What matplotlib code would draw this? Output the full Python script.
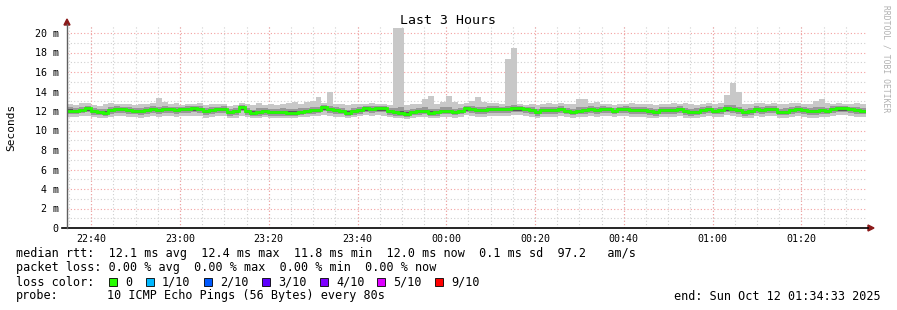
import numpy as np
import matplotlib
matplotlib.use("Agg")
import matplotlib.pyplot as plt
import matplotlib.dates as mdates
from matplotlib.patches import Rectangle, Polygon
from matplotlib.lines import Line2D

# ---------------- data (ms) ----------------
start_time = "2025-10-11T22:34:33"
step_seconds = 80

median_ms = [
    12.0, 12.0, 12.1, 12.3, 12.0, 11.9, 11.8, 12.1, 12.2, 12.2,
    12.1, 12.0, 12.0, 12.1, 12.2, 12.1, 12.2, 12.2, 12.1, 12.2,
    12.2, 12.3, 12.2, 12.0, 12.1, 12.2, 12.2, 11.9, 12.0, 12.4,
    12.0, 11.8, 11.9, 12.0, 11.9, 11.9, 11.9, 11.8, 11.8, 11.9,
    12.0, 12.1, 12.1, 12.4, 12.2, 12.1, 12.0, 11.8, 12.0, 12.1,
    12.3, 12.2, 12.3, 12.3, 12.0, 11.9, 11.8, 11.7, 11.9, 12.0,
    12.0, 11.8, 11.9, 12.0, 12.0, 11.9, 12.0, 12.3, 12.2, 12.1,
    12.1, 12.2, 12.2, 12.2, 12.2, 12.3, 12.3, 12.2, 12.1, 11.9,
    12.1, 12.1, 12.1, 12.2, 12.0, 11.9, 12.0, 12.1, 12.2, 12.1,
    12.2, 12.2, 12.0, 12.2, 12.2, 12.1, 12.1, 12.1, 12.0, 11.9,
    12.1, 12.1, 12.1, 12.2, 12.0, 11.9, 11.9, 12.1, 12.2, 12.0,
    12.1, 12.3, 12.2, 12.1, 11.9, 12.0, 12.2, 12.1, 12.2, 12.2,
    11.9, 11.9, 12.1, 12.2, 12.1, 12.0, 12.0, 12.1, 12.0, 12.2,
    12.3, 12.3, 12.2, 12.1, 12.0,
]

ping_max_ms = [
    12.7, 12.6, 12.8, 12.8, 12.6, 12.5, 12.7, 12.8, 12.7, 12.7,
    12.7, 12.6, 12.7, 12.7, 12.8, 13.3, 12.9, 12.7, 12.8, 12.6,
    12.7, 12.7, 12.8, 12.6, 12.7, 12.7, 12.7, 12.5, 12.6, 12.8,
    12.7, 12.6, 12.8, 12.6, 12.7, 12.6, 12.7, 12.8, 12.9, 12.7,
    12.9, 13.0, 13.4, 12.8, 14.0, 12.7, 12.7, 12.6, 12.7, 12.7,
    12.7, 12.8, 12.7, 12.7, 12.6, 20.5, 20.5, 12.6, 12.7, 12.7,
    13.2, 13.5, 12.7, 12.9, 13.5, 12.9, 12.7, 12.8, 13.0, 13.4,
    12.9, 12.8, 12.8, 12.7, 17.3, 18.5, 12.7, 12.6, 12.7, 12.6,
    12.7, 12.8, 12.7, 12.8, 12.7, 12.7, 13.2, 13.2, 12.8, 12.9,
    12.7, 12.7, 12.6, 12.7, 12.7, 12.8, 12.7, 12.7, 12.7, 12.6,
    12.7, 12.7, 12.8, 12.7, 12.8, 12.7, 12.6, 12.7, 12.8, 12.7,
    12.8, 13.6, 14.9, 13.9, 12.7, 12.7, 12.8, 12.8, 12.7, 12.8,
    12.7, 12.7, 12.8, 12.8, 12.7, 12.7, 13.0, 13.2, 12.8, 12.7,
    12.8, 12.7, 12.7, 12.8, 12.7,
]

ping_min_ms = [
    11.4, 11.4, 11.5, 11.5, 11.4, 11.3, 11.3, 11.4, 11.5, 11.5,
    11.4, 11.4, 11.3, 11.4, 11.5, 11.4, 11.5, 11.5, 11.4, 11.5,
    11.5, 11.5, 11.5, 11.3, 11.4, 11.5, 11.5, 11.3, 11.3, 11.5,
    11.4, 11.3, 11.3, 11.4, 11.3, 11.3, 11.3, 11.3, 11.3, 11.4,
    11.4, 11.5, 11.5, 11.6, 11.5, 11.4, 11.4, 11.3, 11.4, 11.5,
    11.6, 11.5, 11.6, 11.5, 11.4, 11.3, 11.3, 11.2, 11.3, 11.4,
    11.4, 11.3, 11.3, 11.4, 11.4, 11.3, 11.4, 11.6, 11.5, 11.4,
    11.4, 11.5, 11.5, 11.5, 11.5, 11.6, 11.6, 11.5, 11.4, 11.3,
    11.4, 11.4, 11.4, 11.5, 11.4, 11.3, 11.4, 11.4, 11.5, 11.4,
    11.5, 11.5, 11.4, 11.5, 11.5, 11.4, 11.4, 11.4, 11.3, 11.3,
    11.4, 11.4, 11.4, 11.5, 11.3, 11.3, 11.3, 11.4, 11.5, 11.4,
    11.4, 11.6, 11.5, 11.4, 11.3, 11.3, 11.5, 11.4, 11.5, 11.5,
    11.3, 11.3, 11.4, 11.5, 11.4, 11.3, 11.3, 11.4, 11.4, 11.5,
    11.6, 11.6, 11.5, 11.4, 11.4,
]

mid_hi_ms = [
    12.4, 12.3, 12.4, 12.5, 12.3, 12.2, 12.2, 12.4, 12.5, 12.4,
    12.4, 12.3, 12.3, 12.4, 12.5, 12.4, 12.5, 12.4, 12.4, 12.4,
    12.5, 12.5, 12.5, 12.3, 12.4, 12.4, 12.5, 12.2, 12.3, 12.6,
    12.3, 12.1, 12.3, 12.3, 12.2, 12.2, 12.3, 12.2, 12.2, 12.3,
    12.3, 12.4, 12.4, 12.6, 12.5, 12.4, 12.3, 12.1, 12.3, 12.4,
    12.5, 12.5, 12.5, 12.5, 12.3, 12.3, 12.4, 12.1, 12.2, 12.3,
    12.4, 12.2, 12.2, 12.4, 12.4, 12.2, 12.3, 12.5, 12.5, 12.4,
    12.4, 12.5, 12.5, 12.4, 12.5, 12.6, 12.5, 12.4, 12.4, 12.2,
    12.4, 12.4, 12.4, 12.5, 12.3, 12.2, 12.4, 12.4, 12.5, 12.4,
    12.5, 12.4, 12.3, 12.4, 12.5, 12.4, 12.4, 12.4, 12.3, 12.2,
    12.4, 12.4, 12.4, 12.5, 12.3, 12.2, 12.3, 12.4, 12.5, 12.3,
    12.4, 12.6, 12.6, 12.4, 12.2, 12.3, 12.5, 12.4, 12.5, 12.5,
    12.2, 12.3, 12.4, 12.5, 12.4, 12.3, 12.4, 12.4, 12.3, 12.5,
    12.5, 12.5, 12.4, 12.4, 12.3,
]

mid_lo_ms = [
    11.7, 11.7, 11.8, 11.9, 11.6, 11.6, 11.5, 11.7, 11.8, 11.8,
    11.7, 11.7, 11.6, 11.7, 11.8, 11.7, 11.8, 11.8, 11.7, 11.8,
    11.8, 11.9, 11.8, 11.6, 11.7, 11.8, 11.8, 11.5, 11.6, 12.0,
    11.6, 11.5, 11.5, 11.6, 11.5, 11.5, 11.5, 11.5, 11.5, 11.6,
    11.7, 11.7, 11.8, 12.0, 11.8, 11.7, 11.7, 11.5, 11.6, 11.7,
    11.9, 11.8, 11.9, 11.9, 11.6, 11.5, 11.5, 11.4, 11.6, 11.6,
    11.7, 11.5, 11.5, 11.7, 11.7, 11.6, 11.7, 11.9, 11.8, 11.7,
    11.7, 11.8, 11.8, 11.8, 11.8, 11.9, 11.9, 11.8, 11.7, 11.5,
    11.7, 11.7, 11.7, 11.8, 11.7, 11.6, 11.7, 11.7, 11.8, 11.7,
    11.8, 11.8, 11.7, 11.8, 11.8, 11.7, 11.7, 11.7, 11.6, 11.5,
    11.7, 11.7, 11.7, 11.8, 11.6, 11.5, 11.6, 11.7, 11.8, 11.7,
    11.7, 11.9, 11.8, 11.7, 11.5, 11.6, 11.8, 11.7, 11.8, 11.8,
    11.6, 11.6, 11.7, 11.8, 11.7, 11.6, 11.6, 11.7, 11.7, 11.8,
    11.9, 11.9, 11.8, 11.7, 11.7,
]

dark_hi_ms = [
    12.25, 12.15, 12.25, 12.45, 12.15, 12.05, 12.05, 12.25, 12.35, 12.35,
    12.25, 12.15, 12.15, 12.25, 12.35, 12.25, 12.35, 12.35, 12.25, 12.35,
    12.35, 12.45, 12.35, 12.15, 12.25, 12.35, 12.35, 12.05, 12.15, 12.55,
    12.15, 11.95, 12.05, 12.15, 12.05, 12.05, 12.05, 11.95, 11.95, 12.05,
    12.15, 12.25, 12.25, 12.55, 12.35, 12.25, 12.15, 11.95, 12.15, 12.25,
    12.45, 12.35, 12.45, 12.45, 12.15, 12.05, 11.95, 11.85, 12.05, 12.15,
    12.15, 11.95, 12.05, 12.15, 12.15, 12.05, 12.15, 12.45, 12.35, 12.25,
    12.25, 12.35, 12.35, 12.35, 12.35, 12.45, 12.45, 12.35, 12.25, 12.05,
    12.25, 12.25, 12.25, 12.35, 12.15, 12.05, 12.15, 12.25, 12.35, 12.25,
    12.35, 12.35, 12.15, 12.35, 12.35, 12.25, 12.25, 12.25, 12.15, 12.05,
    12.25, 12.25, 12.25, 12.35, 12.15, 12.05, 12.05, 12.25, 12.35, 12.15,
    12.25, 12.45, 12.35, 12.25, 12.05, 12.15, 12.35, 12.25, 12.35, 12.35,
    12.05, 12.05, 12.25, 12.35, 12.25, 12.15, 12.15, 12.25, 12.15, 12.35,
    12.45, 12.45, 12.35, 12.25, 12.15,
]

dark_lo_ms = [
    11.8, 11.8, 11.85, 12.05, 11.75, 11.65, 11.6, 11.85, 11.95, 11.95,
    11.85, 11.8, 11.75, 11.85, 11.95, 11.85, 11.95, 11.95, 11.85, 11.95,
    11.95, 12.05, 11.95, 11.75, 11.85, 11.95, 11.95, 11.65, 11.75, 12.15,
    11.75, 11.6, 11.65, 11.75, 11.65, 11.65, 11.65, 11.6, 11.6, 11.7,
    11.8, 11.85, 11.9, 12.15, 11.95, 11.85, 11.8, 11.6, 11.75, 11.85,
    12.05, 11.95, 12.05, 12.05, 11.75, 11.65, 11.6, 11.5, 11.7, 11.75,
    11.8, 11.6, 11.65, 11.8, 11.8, 11.7, 11.8, 12.05, 11.95, 11.85,
    11.85, 11.95, 11.95, 11.95, 11.95, 12.05, 12.05, 11.95, 11.85, 11.65,
    11.85, 11.85, 11.85, 11.95, 11.8, 11.7, 11.8, 11.85, 11.95, 11.85,
    11.95, 11.95, 11.8, 11.95, 11.95, 11.85, 11.85, 11.85, 11.75, 11.65,
    11.85, 11.85, 11.85, 11.95, 11.75, 11.65, 11.7, 11.85, 11.95, 11.8,
    11.85, 12.05, 11.95, 11.85, 11.65, 11.75, 11.95, 11.85, 11.95, 11.95,
    11.7, 11.7, 11.85, 11.95, 11.85, 11.75, 11.75, 11.85, 11.8, 11.95,
    12.05, 12.05, 11.95, 11.85, 11.8,
]

y_ticks = [0, 2, 4, 6, 8, 10, 12, 14, 16, 18, 20]
y_tick_labels = ["0", "2 m", "4 m", "6 m", "8 m", "10 m", "12 m", "14 m",
                 "16 m", "18 m", "20 m"]
x_tick_times = ["2025-10-11T22:40", "2025-10-11T23:00", "2025-10-11T23:20",
                "2025-10-11T23:40", "2025-10-12T00:00", "2025-10-12T00:20",
                "2025-10-12T00:40", "2025-10-12T01:00", "2025-10-12T01:20"]
x_tick_labels = ["22:40", "23:00", "23:20", "23:40", "00:00", "00:20",
                 "00:40", "01:00", "01:20"]

legend_rtt = "median rtt:  12.1 ms avg  12.4 ms max  11.8 ms min  12.0 ms now  0.1 ms sd  97.2   am/s"
legend_loss = "packet loss: 0.00 % avg  0.00 % max  0.00 % min  0.00 % now"
loss_labels = ["0", "1/10", "2/10", "3/10", "4/10", "5/10", "9/10"]
loss_colors = ["#26ff00", "#00b8ff", "#0059ff", "#5e00ff", "#7e00ff", "#dd00ff", "#ff0000"]
probe_text = "10 ICMP Echo Pings (56 Bytes) every 80s"
end_text = "end: Sun Oct 12 01:34:33 2025"

# ---------------- figure ----------------
W, H = 897, 310
fig = plt.figure(figsize=(W / 100, H / 100), dpi=100)
fig.patch.set_facecolor("white")
MONO = "DejaVu Sans Mono"

def fx(x):
    return x / W

def fy(y):
    return 1 - y / H

ax_l, ax_r, ax_t, ax_b = 67, 866, 25, 228
ax = fig.add_axes([fx(ax_l), fy(ax_b), (ax_r - ax_l) / W, (ax_b - ax_t) / H])
ax.set_facecolor("white")

def to_num(t):
    return mdates.date2num(np.datetime64(t, "s").astype(object))

t0 = np.datetime64(start_time, "s")
n = len(median_ms)
edges = np.array([to_num(t0 + np.timedelta64(step_seconds * i, "s")) for i in range(n + 1)])

ymax = (ax_b - ax_t) / 9.75
ax.set_xlim(edges[0], edges[-1])
ax.set_ylim(0, ymax)

# grid
major_x = [to_num(t) for t in x_tick_times]
minor_x = []
tt = np.datetime64("2025-10-11T22:35", "s")
while tt < np.datetime64("2025-10-12T01:35", "s"):
    minor_x.append(to_num(tt))
    tt = tt + np.timedelta64(300, "s")
for yv in range(1, 21):
    major = yv % 2 == 0
    ax.axhline(yv, color="#f4a0a0" if major else "#d0d0d0", lw=0.8,
               ls=(0, (1, 2)), zorder=0)
for xv in minor_x:
    ax.axvline(xv, color="#d0d0d0", lw=0.8, ls=(0, (1, 2)), zorder=0)
for xv in major_x:
    ax.axvline(xv, color="#f4a0a0", lw=0.8, ls=(0, (1, 2)), zorder=0)

# smoke
ax.stairs(ping_max_ms, edges, baseline=ping_min_ms, fill=True, color="#c8c8c8", lw=0, zorder=2)
ax.stairs(mid_hi_ms, edges, baseline=mid_lo_ms, fill=True, color="#989898", lw=0, zorder=3)
ax.stairs(dark_hi_ms, edges, baseline=dark_lo_ms, fill=True, color="#5a5a5a", lw=0, zorder=4)
# median
ax.stairs(median_ms, edges, baseline=None, color="#22ff00", lw=2.0, zorder=5)

for s in ax.spines.values():
    s.set_visible(False)
ax.set_yticks(y_ticks)
ax.set_yticklabels(y_tick_labels, fontfamily=MONO, fontsize=7.2)
ax.set_xticks(major_x)
ax.set_xticklabels(x_tick_labels, fontfamily=MONO, fontsize=7.2)
ax.tick_params(axis="both", length=0)
ax.tick_params(axis="y", pad=6)
ax.tick_params(axis="x", pad=4)

# axes lines and arrows
fig.add_artist(Line2D([fx(62), fx(868)], [fy(228), fy(228)], color="black", lw=1.2))
fig.add_artist(Line2D([fx(67), fx(67)], [fy(228), fy(24)], color="#606060", lw=1.0))
fig.add_artist(Polygon([[fx(868), fy(225)], [fx(874), fy(228)], [fx(868), fy(231)]],
                       closed=True, color="#8b1a1a"))
fig.add_artist(Polygon([[fx(64), fy(25)], [fx(67), fy(19)], [fx(70), fy(25)]],
                       closed=True, color="#8b1a1a"))

# titles
fig.text(fx(448), fy(20), "Last 3 Hours", fontfamily=MONO, fontsize=9.5,
         ha="center", va="center")
fig.text(fx(11), fy(127), "Seconds", fontfamily=MONO, fontsize=8,
         ha="center", va="center", rotation=90)
fig.text(fx(886), fy(59), "RRDTOOL / TOBI OETIKER", fontfamily=MONO, fontsize=5.8,
         ha="center", va="center", rotation=270, color="#b0b0b0")

# legend
fs = 8.5
fig.text(fx(16), fy(254), legend_rtt, fontfamily=MONO, fontsize=fs, va="center")
fig.text(fx(16), fy(268), legend_loss, fontfamily=MONO, fontsize=fs, va="center")
fig.text(fx(16), fy(282), "loss color:", fontfamily=MONO, fontsize=fs, va="center")
sq_x = [109, 146, 204, 262, 320, 377, 435]
for x0, lab, col in zip(sq_x, loss_labels, loss_colors):
    fig.add_artist(Rectangle((fx(x0), fy(286)), 8 / W, 8 / H, facecolor=col,
                             edgecolor="black", lw=0.6))
    fig.text(fx(x0 + 16), fy(282), lab, fontfamily=MONO, fontsize=fs, va="center")
fig.text(fx(16), fy(296), "probe:", fontfamily=MONO, fontsize=fs, va="center")
fig.text(fx(107), fy(296), probe_text, fontfamily=MONO, fontsize=fs, va="center")
fig.text(fx(881), fy(296), end_text, fontfamily=MONO, fontsize=fs, va="center", ha="right")

fig.savefig("out.png", dpi=100)
